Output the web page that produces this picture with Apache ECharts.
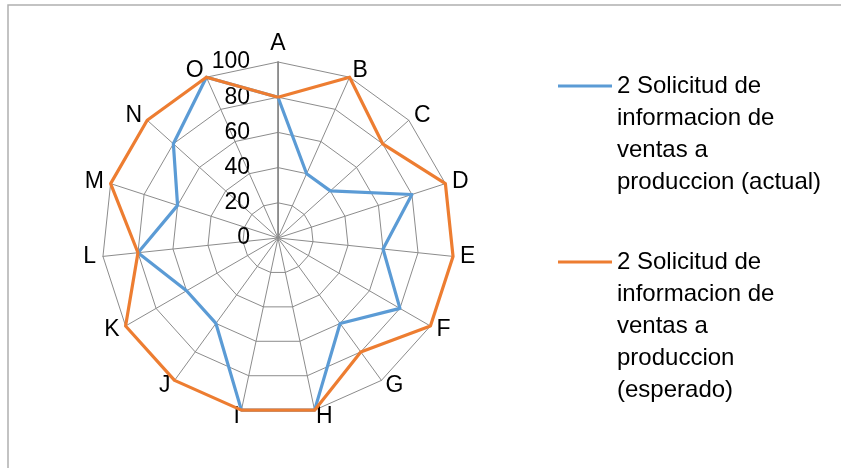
<!DOCTYPE html>
<html>
<head>
<meta charset="utf-8">
<script src="https://cdn.jsdelivr.net/npm/echarts@6/dist/echarts.min.js"></script>
<style>
html,body{margin:0;padding:0;background:#fff;}
#chart{width:841px;height:468px;}
</style>
</head>
<body>
<div id="chart"></div>
<script>
const categories = ['A','B','C','D','E','F','G','H','I','J','K','L','M','N','O'];
const actualValues = [80,40,40,80,60,80,60,100,100,60,60,80,60,80,100];
const expectedValues = [80,100,80,100,100,100,80,100,100,100,100,80,100,100,100];
const tickValues = [0,20,40,60,80,100];
const seriesNames = ['2 Solicitud de\ninformacion de\nventas a\nproduccion (actual)', '2 Solicitud de\ninformacion de\nventas a\nproduccion\n(esperado)'];
const colors = ['#5B9BD5', '#ED7D31'];

// ECharts radar goes counterclockwise; reorder so the categories run clockwise
const order = [0].concat(categories.map((_, i) => i).slice(1).reverse());
const maxV = tickValues[tickValues.length - 1];
const indicators = order.map(i => ({ name: categories[i], max: maxV, min: 0 }));
const reorder = arr => order.map(i => arr[i]);

const FONT = 'Liberation Sans';
const cx = 278, cy = 238, R = 176;

const chart = echarts.init(document.getElementById('chart'), null, { renderer: 'canvas' });
chart.setOption({
  backgroundColor: '#fff',
  animation: false,
  textStyle: { fontFamily: FONT },
  radar: {
    center: [cx, cy],
    radius: R,
    startAngle: 90,
    shape: 'polygon',
    splitNumber: tickValues.length - 1,
    indicator: indicators,
    axisName: { color: '#000', fontSize: 23, fontFamily: FONT },
    nameGap: 7,
    splitArea: { show: false },
    splitLine: { lineStyle: { color: '#8c8c8c', width: 1 } },
    axisLine: { lineStyle: { color: '#8c8c8c', width: 1 } },
    axisTick: { show: false },
    axisLabel: { show: false }
  },
  polar: { center: [cx, cy], radius: R },
  angleAxis: { show: false, startAngle: 90, min: 0, max: 360 },
  radiusAxis: {
    min: 0, max: maxV, interval: tickValues[1] - tickValues[0],
    axisLine: { show: true, lineStyle: { color: '#7a7a7a', width: 1.5 } },
    axisTick: { show: false },
    splitLine: { show: false },
    axisLabel: { show: true, color: '#000', fontSize: 23, fontFamily: FONT, margin: 28,
      formatter: v => tickValues.indexOf(v) >= 0 ? String(v) : '' }
  },
  series: [{
    type: 'radar',
    symbol: 'none',
    data: [
      { name: seriesNames[0], value: reorder(actualValues), lineStyle: { color: colors[0], width: 3.2 } },
      { name: seriesNames[1], value: reorder(expectedValues), lineStyle: { color: colors[1], width: 3.2 } }
    ]
  }],
  graphic: [
    { type: 'polyline', shape: { points: [[8, 468], [8, 5], [841, 5]] }, style: { stroke: '#b0b0b0', lineWidth: 1.5, fill: null }, silent: true },
    { type: 'line', shape: { x1: 558, y1: 86, x2: 612, y2: 86 }, style: { stroke: colors[0], lineWidth: 3 } },
    { type: 'text', x: 617, y: 70, style: { text: seriesNames[0], fontSize: 24, lineHeight: 32, fontFamily: FONT, fill: '#000', verticalAlign: 'top' } },
    { type: 'line', shape: { x1: 558, y1: 262, x2: 612, y2: 262 }, style: { stroke: colors[1], lineWidth: 3 } },
    { type: 'text', x: 617, y: 246, style: { text: seriesNames[1], fontSize: 24, lineHeight: 32, fontFamily: FONT, fill: '#000', verticalAlign: 'top' } }
  ]
});
</script>
</body>
</html>
